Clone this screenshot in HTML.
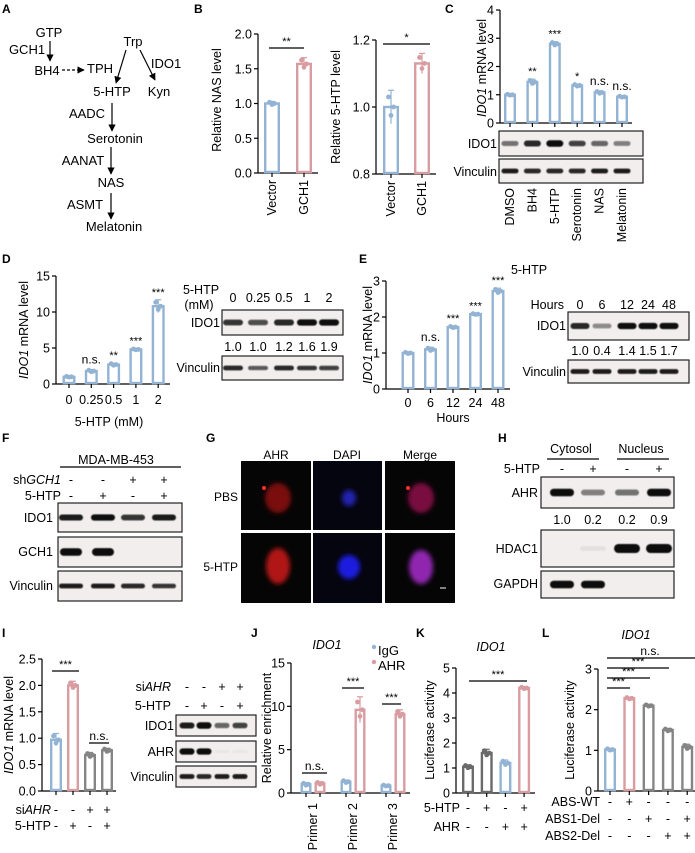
<!DOCTYPE html>
<html><head><meta charset="utf-8"><style>
html,body{margin:0;padding:0;background:#fff;}
svg{display:block;font-family:"Liberation Sans",Arial,sans-serif;}
</style></head><body>
<svg id="fig" width="695" height="853" viewBox="0 0 695 853" xmlns="http://www.w3.org/2000/svg">
<defs>
<filter id="blur" x="-20%" y="-50%" width="140%" height="200%"><feGaussianBlur stdDeviation="0.6"/></filter>
<filter id="glow" x="-50%" y="-50%" width="200%" height="200%"><feGaussianBlur stdDeviation="2.5"/></filter>
<marker id="ah" viewBox="0 0 10 10" refX="9" refY="5" markerWidth="6" markerHeight="6" orient="auto"><path d="M0,0 L10,5 L0,10 z" fill="#000"/></marker>
</defs>
<g font-weight="bold" font-size="12">
<text x="2" y="13">A</text>
<text x="194" y="13">B</text>
<text x="445" y="13">C</text>
<text x="2" y="263">D</text>
<text x="359" y="263">E</text>
<text x="2" y="442">F</text>
<text x="206" y="442">G</text>
<text x="498" y="442">H</text>
<text x="2" y="637">I</text>
<text x="251" y="637">J</text>
<text x="416" y="637">K</text>
<text x="542" y="637">L</text>
</g>
<g font-size="13" text-anchor="middle">
<text x="49" y="37">GTP</text>
<text x="27" y="54">GCH1</text>
<text x="47" y="75">BH4</text>
<text x="100" y="73">TPH</text>
<text x="133" y="46">Trp</text>
<text x="166" y="68">IDO1</text>
<text x="112" y="96">5-HTP</text>
<text x="159" y="96">Kyn</text>
<text x="87" y="118">AADC</text>
<text x="115" y="143">Serotonin</text>
<text x="83" y="165">AANAT</text>
<text x="111" y="187">NAS</text>
<text x="85" y="209">ASMT</text>
<text x="114" y="231">Melatonin</text>
</g>
<g stroke="#000" stroke-width="1.2" fill="none" marker-end="url(#ah)">
<line x1="50" y1="41" x2="50" y2="61"/>
<line x1="62" y1="70" x2="84" y2="70" stroke-dasharray="3,2"/>
<line x1="126" y1="50" x2="116" y2="83"/>
<line x1="140" y1="50" x2="155" y2="80"/>
<line x1="112" y1="103" x2="112" y2="131"/>
<line x1="111" y1="147" x2="111" y2="174"/>
<line x1="111" y1="193" x2="111" y2="219"/>
</g>
<g font-size="12" text-anchor="middle">
<text x="276" y="459">AHR</text>
<text x="347" y="459">DAPI</text>
<text x="420" y="459">Merge</text>
<text x="238" y="501" text-anchor="end">PBS</text>
<text x="238" y="571" text-anchor="end">5-HTP</text>
<rect x="241" y="461" width="70" height="69" fill="#050505"/>
<rect x="313" y="461" width="69" height="69" fill="#050510"/>
<rect x="385" y="461" width="70" height="69" fill="#050505"/>
<rect x="241" y="533" width="70" height="70" fill="#050505"/>
<rect x="313" y="533" width="69" height="70" fill="#050510"/>
<rect x="385" y="533" width="70" height="70" fill="#050505"/>
<g filter="url(#glow)">
<ellipse cx="278" cy="498" rx="13" ry="15" fill="#7a1010"/>
<ellipse cx="349" cy="498" rx="7" ry="8" fill="#2020b0"/>
<ellipse cx="421" cy="498" rx="13" ry="15" fill="#7a1040"/>
<ellipse cx="278" cy="566" rx="12" ry="18" fill="#b01818"/>
<ellipse cx="349" cy="567" rx="11" ry="12" fill="#1a1ae0"/>
<ellipse cx="421" cy="567" rx="12" ry="17" fill="#9028b0"/>
</g>
<circle cx="264" cy="488" r="2" fill="#ff3030"/>
<circle cx="408" cy="488" r="2" fill="#ff3030"/>
<line x1="440" y1="588" x2="446" y2="588" stroke="#fff" stroke-width="1"/>
</g>
</svg>
<script>
const b1Cats=['Vector','GCH1'];
const b1Vals=[1.0,1.57];
const b1Errs=[0.03,0.09];
const b1Ticks=[0,0.5,1,1.5,2];
const b1TickLabels=['0.0','0.5','1.0','1.5','2.0'];

const b2Cats=['Vector','GCH1'];
const b2Vals=[1.0,1.13];
const b2Errs=[0.05,0.03];
const b2Ticks=[0.8,1.0,1.2];
const b2TickLabels=['0.8','1.0','1.2'];

const cCats=['DMSO','BH4','5-HTP','Serotonin','NAS','Melatonin'];
const cVals=[1.0,1.45,2.8,1.33,1.08,0.93];
const cErrs=[0.03,0.1,0.08,0.05,0.06,0.03];
const cSig=['','**','***','*','n.s.','n.s.'];
const cTicks=[0,1,2,3,4];
const cTickLabels=['0','1','2','3','4'];

const dCats=['0','0.25','0.5','1','2'];
const dVals=[1.0,1.8,2.7,4.8,10.8];
const dErrs=[0.1,0.2,0.2,0.1,0.9];
const dSig=['','n.s.','**','***','***'];
const dTicks=[0,5,10,15];
const dTickLabels=['0','5','10','15'];

const eCats=['0','6','12','24','48'];
const eVals=[1.0,1.1,1.72,2.08,2.72];
const eErrs=[0.03,0.06,0.03,0.02,0.08];
const eSig=['','n.s.','***','***','***'];
const eTicks=[0,1,2,3];
const eTickLabels=['0','1','2','3'];

const iVals=[0.97,2.0,0.68,0.77];
const iErrs=[0.12,0.08,0.05,0.04];
const iTicks=[0,0.5,1,1.5,2,2.5];
const iTickLabels=['0.0','0.5','1.0','1.5','2.0','2.5'];

const jCats=['Primer 1','Primer 2','Primer 3'];
const jIgG=[1.0,1.3,0.85];
const jAHR=[1.1,9.6,9.1];
const jIgGErr=[0.2,0.2,0.1];
const jAHRErr=[0.2,1.5,0.5];
const jTicks=[0,5,10,15];
const jTickLabels=['0','5','10','15'];

const kVals=[1.05,1.6,1.2,4.2];
const kErrs=[0.08,0.15,0.12,0.05];
const kTicks=[0,1,2,3,4,5];
const kTickLabels=['0','1','2','3','4','5'];

const lVals=[1.02,2.28,2.1,1.5,1.08];
const lErrs=[0.03,0.03,0.03,0.04,0.07];
const lTicks=[0,1,2,3];
const lTickLabels=['0','1','2','3'];

const BLUE='#93b3d4', PINK='#d99ca0', GRAY='#858585', DGRAY='#6a6a6a';
const NS='http://www.w3.org/2000/svg';
const svg=document.getElementById('fig');
function mk(tag,parent){const e=document.createElementNS(NS,tag);(parent||svg).appendChild(e);return e;}
function T(parent,x,y,s,size,anchor,name){
  const t=mk('text',parent);
  t.setAttribute('x',x);t.setAttribute('y',y);t.setAttribute('font-size',size);
  t.setAttribute('text-anchor',anchor||'middle');t.textContent=s;
  
  
  return t;
}
function L(parent,x1,y1,x2,y2,w,col){
  const l=mk('line',parent);
  l.setAttribute('x1',x1);l.setAttribute('y1',y1);l.setAttribute('x2',x2);l.setAttribute('y2',y2);
  l.setAttribute('stroke',col||'#000');l.setAttribute('stroke-width',w||1.2);
  return l;
}
function axis(c){
  const g=mk('g');
  
  
  const y=v=>c.y0-(v-c.vmin)/(c.vmax-c.vmin)*(c.y0-c.y1);
  const l=L(g,c.ax,c.y0,c.ax,y(c.vmax),1.2);
  
  
  c.ticks.forEach((v,i)=>{
    const tk=L(g,c.ax-4,y(v),c.ax,y(v),1.2);
    
    
    T(g,c.ax-6,y(v)+4.5,c.tickLabels[i],12.5,'end',c.name+'-y-tick-label');
  });
  const bl=L(g,c.ax,c.y0,c.xEnd,c.y0,1.2);
  
  
  return y;
}
function bar(g,name,y,y0,x,bw,v,e,col){
  const r=mk('rect',g);
  r.setAttribute('x',x-bw/2+1.2);r.setAttribute('y',y(v));r.setAttribute('width',bw-2.4);
  r.setAttribute('height',Math.max(0,y0-y(v)-1));r.setAttribute('fill','#fff');
  r.setAttribute('stroke',col);r.setAttribute('stroke-width',2.4);
  
  
  const eb=L(g,x,y(v-e),x,y(v+e),1.2,col);
  
  
  const cap=L(g,x-3,y(v+e),x+3,y(v+e),1.2,col);
  
  
  [[-2.5,0.6],[0,-0.5],[2.5,0]].forEach(p=>{
    const d=mk('circle',g);
    d.setAttribute('cx',x+p[0]);d.setAttribute('cy',y(v+e*p[1]));d.setAttribute('r',2.4);d.setAttribute('fill',col);
    
    
  });
  const tk=L(g,x,y0,x,y0+4,1.2);
  
  
}
function chart(c){
  const y=axis(c);
  const g=mk('g');
  
  
  c.vals.forEach((v,i)=>{
    const x=c.x0+i*c.step;
    bar(g,c.name+'-bar-'+(i+1),y,c.y0,x,c.bw,v,c.errs[i],c.colors[i]);
    if(c.sig&&c.sig[i]){
      const s=c.sig[i];
      T(g,x,y(v+c.errs[i])-(s.indexOf('*')>=0?4:6),s,s.indexOf('*')>=0?11:12,'middle',c.name+'-sig-'+(i+1));
    }
    if(c.cats&&c.rot){
      const t=T(g,x+4,c.catY,c.cats[i],12.5,'end',c.name+'-x-label');
      t.setAttribute('transform','rotate(-90 '+(x+4)+' '+c.catY+')');
    } else if(c.cats){
      T(g,x,c.catY,c.cats[i],12.5,'middle',c.name+'-x-label');
    }
  });
  return y;
}
function ytitle(x,y,parts,name){
  const t=mk('text');
  t.setAttribute('x',x);t.setAttribute('y',y);t.setAttribute('font-size',12.5);t.setAttribute('text-anchor','middle');
  t.setAttribute('transform','rotate(-90 '+x+' '+y+')');
  
  
  parts.forEach(p=>{const s=mk('tspan',t);s.textContent=p[0];if(p[1])s.setAttribute('font-style','italic');});
}
function blot(name,x,y,w,h,lanes,inten,bw,bh){
  const g=mk('g');
  
  
  const r=mk('rect',g);
  r.setAttribute('x',x);r.setAttribute('y',y);r.setAttribute('width',w);r.setAttribute('height',h);
  r.setAttribute('fill','#f2eeee');r.setAttribute('stroke','#222');r.setAttribute('stroke-width',1.2);
  lanes.forEach((lx,i)=>{
    if(inten[i]<=0.02)return;
    const b=mk('rect',g);
    const hh=bh*(0.7+0.6*inten[i]);
    b.setAttribute('x',lx-bw/2);b.setAttribute('y',y+h/2-hh/2);b.setAttribute('width',bw);b.setAttribute('height',hh);
    b.setAttribute('rx',hh/2);b.setAttribute('fill','rgb(12,8,8)');b.setAttribute('opacity',Math.min(1,inten[i]*1.1));
    b.setAttribute('filter','url(#blur)');
    
    
  });
}
function rowLabels(labelX,rows,lanes,name){
  rows.forEach(r=>{
    const t=mk('text');
    t.setAttribute('x',labelX);t.setAttribute('y',r.y);t.setAttribute('font-size',12.5);t.setAttribute('text-anchor','end');
    
    
    const parts=Array.isArray(r.label)?r.label:[[r.label]];
    parts.forEach(p=>{const s=mk('tspan',t);s.textContent=p[0];if(p[1])s.setAttribute('font-style','italic');});
    r.vals.forEach((s,i)=>T(svg,lanes[i],r.y,s,12.5,'middle',name+'-sign'));
  });
}
function sigLine(x1,x2,y,label,name,tx){
  const l=L(svg,x1,y,x2,y,1.3);
  
  
  T(svg,tx||(x1+x2)/2,y-3,label,label.indexOf('*')>=0?11:12,'middle',name+'-text');
}

chart({name:'b-nas',ax:258,y0:173,y1:34,vmin:0,vmax:2,ticks:b1Ticks,tickLabels:b1TickLabels,vals:b1Vals,errs:b1Errs,colors:[BLUE,PINK],x0:272,step:32,bw:16,xEnd:318,cats:b1Cats,rot:true,catY:180});
ytitle(221,100,[['Relative NAS level']],'b-nas-y-title');
sigLine(269,304,48,'**','b-nas-sig');
chart({name:'b-5htp',ax:376,y0:174,y1:40,vmin:0.8,vmax:1.2,ticks:b2Ticks,tickLabels:b2TickLabels,vals:b2Vals,errs:b2Errs,colors:[BLUE,PINK],x0:391,step:31,bw:16,xEnd:436,cats:b2Cats,rot:true,catY:181});
ytitle(340,107,[['Relative 5-HTP level']],'b-5htp-y-title');
sigLine(383,430,44,'*','b-5htp-sig');

chart({name:'c',ax:500,y0:123,y1:10,vmin:0,vmax:4,ticks:cTicks,tickLabels:cTickLabels,vals:cVals,errs:cErrs,colors:cVals.map(()=>BLUE),x0:510,step:22.4,bw:12,xEnd:632,sig:cSig,cats:cCats,rot:true,catY:188});
ytitle(486,68,[['IDO1',1],[' mRNA level']],'c-y-title');
const cLanes=cVals.map((v,i)=>510+i*22.4);
blot('c-blot-ido1',499,131,144,25,cLanes,[0.5,0.8,1,0.7,0.55,0.45],17,5);
blot('c-blot-vinculin',499,159,144,24,cLanes,[0.85,0.8,0.8,0.8,0.85,0.85],17,4);
T(svg,497,148,'IDO1',12.5,'end','c-blot-label-ido1');
T(svg,497,176,'Vinculin',12.5,'end','c-blot-label-vinculin');

chart({name:'d',ax:56,y0:384,y1:276,vmin:0,vmax:15,ticks:dTicks,tickLabels:dTickLabels,vals:dVals,errs:dErrs,colors:dVals.map(()=>BLUE),x0:69,step:22.3,bw:13,xEnd:170,sig:dSig,cats:dCats,catY:404});
ytitle(28,330,[['IDO1',1],[' mRNA level']],'d-y-title');
T(svg,109,426,'5-HTP (mM)',12.5,'middle','d-x-title');
const dLanes=[233,258,284,307,329];
T(svg,201,294,'5-HTP',12.5,'middle','d-blot-header');
T(svg,199,309,'(mM)',12.5,'middle','d-blot-header-unit');
['0','0.25','0.5','1','2'].forEach((s,i)=>T(svg,dLanes[i],302,s,12.5,'middle','d-blot-lane-label'));
blot('d-blot-ido1',222,310,121,25,dLanes,[0.75,0.65,0.8,0.9,0.9],20,5);
['1.0','1.0','1.2','1.6','1.9'].forEach((s,i)=>T(svg,dLanes[i],351,s,12.5,'middle','d-blot-quant'));
blot('d-blot-vinculin',222,356,121,24,dLanes,[0.8,0.6,0.8,0.75,0.7],20,4);
T(svg,220,327,'IDO1',12.5,'end','d-blot-label-ido1');
T(svg,220,372,'Vinculin',12.5,'end','d-blot-label-vinculin');

chart({name:'e',ax:386,y0:389,y1:281,vmin:0,vmax:3,ticks:eTicks,tickLabels:eTickLabels,vals:eVals,errs:eErrs,colors:eVals.map(()=>BLUE),x0:408,step:22.5,bw:13,xEnd:510,sig:eSig,cats:eCats,catY:407});
ytitle(372,335,[['IDO1',1],[' mRNA level']],'e-y-title');
T(svg,453,422,'Hours',12.5,'middle','e-x-title');
T(svg,529,274,'5-HTP',12.5,'middle','e-treatment-label');
const eLanes=[580,602,627,648,669];
T(svg,564,309,'Hours',12.5,'end','e-blot-header');
['0','6','12','24','48'].forEach((s,i)=>T(svg,eLanes[i],309,s,12.5,'middle','e-blot-lane-label'));
blot('e-blot-ido1',568,312,121,28,eLanes,[0.8,0.4,0.9,0.9,0.9],19,5);
['1.0','0.4','1.4','1.5','1.7'].forEach((s,i)=>T(svg,eLanes[i],355,s,12.5,'middle','e-blot-quant'));
blot('e-blot-vinculin',568,360,121,23,eLanes,[0.85,0.85,0.85,0.85,0.85],19,4);
T(svg,566,330,'IDO1',12.5,'end','e-blot-label-ido1');
T(svg,566,376,'Vinculin',12.5,'end','e-blot-label-vinculin');

const fLanes=[71,103,133,164];
T(svg,116,464,'MDA-MB-453',12.5,'middle','f-cell-line');
const fl=L(svg,60,467,181,467,1.2);


rowLabels(61,[{y:484,label:[['sh'],['GCH1',1]],vals:['-','-','+','+']},{y:500,label:'5-HTP',vals:['-','+','-','+']}],fLanes,'f');
blot('f-blot-ido1',58,503,124,29,fLanes,[0.85,0.9,0.75,0.85],24,5);
blot('f-blot-gch1',58,537,124,30,fLanes,[0.95,1,0,0],22,6);
blot('f-blot-vinculin',58,571,124,30,fLanes,[0.85,0.85,0.8,0.75],24,4);
T(svg,53,522,'IDO1',12.5,'end','f-blot-label-ido1');
T(svg,53,556,'GCH1',12.5,'end','f-blot-label-gch1');
T(svg,53,590,'Vinculin',12.5,'end','f-blot-label-vinculin');

const hLanes=[562,593,627,659];
T(svg,571,453,'Cytosol',12.5,'middle','h-cytosol-header');
T(svg,641,453,'Nucleus',12.5,'middle','h-nucleus-header');
[[547,599],[617,669]].forEach(p=>{const u=L(svg,p[0],459,p[1],459,1.2);
  
  });
rowLabels(540,[{y:473,label:'5-HTP',vals:['-','+','-','+']}],hLanes,'h');
blot('h-blot-ahr',541,477,133,31,hLanes,[0.95,0.45,0.5,0.95],24,6);
['1.0','0.2','0.2','0.9'].forEach((s,i)=>T(svg,hLanes[i],524,s,12.5,'middle','h-blot-quant'));
blot('h-blot-hdac1',541,530,133,37,hLanes,[0,0.05,1,1],26,7);
blot('h-blot-gapdh',541,571,133,27,hLanes,[0.95,0.95,0,0],24,6);
T(svg,538,497,'AHR',12.5,'end','h-blot-label-ahr');
T(svg,538,553,'HDAC1',12.5,'end','h-blot-label-hdac1');
T(svg,538,588,'GAPDH',12.5,'end','h-blot-label-gapdh');

const iLanesBars=iVals.map((v,i)=>56+i*17);
chart({name:'i',ax:42,y0:791,y1:659,vmin:0,vmax:2.5,ticks:iTicks,tickLabels:iTickLabels,vals:iVals,errs:iErrs,colors:[BLUE,PINK,GRAY,GRAY],x0:56,step:17,bw:12,xEnd:116});
ytitle(13,725,[['IDO1',1],[' mRNA level']],'i-y-title');
sigLine(52,79,671,'***','i-sig-1');
sigLine(89,109,743,'n.s.','i-sig-2');
rowLabels(51,[{y:814,label:[['si'],['AHR',1]],vals:['-','-','+','+']},{y:830,label:'5-HTP',vals:['-','+','-','+']}],iLanesBars,'i');
const iLanes=[187,204,222,240];
rowLabels(171,[{y:691,label:[['si'],['AHR',1]],vals:['-','-','+','+']},{y:710,label:'5-HTP',vals:['-','+','-','+']}],iLanes,'i-blot');
blot('i-blot-ido1',176,715,80,21,iLanes,[0.85,1,0.55,0.7],15,5);
blot('i-blot-ahr',176,741,80,21,iLanes,[0.95,0.95,0.03,0.03],15,5);
blot('i-blot-vinculin',176,766,80,21,iLanes,[0.85,0.8,0.85,0.85],15,4);
T(svg,174,730,'IDO1',12.5,'end','i-blot-label-ido1');
T(svg,174,756,'AHR',12.5,'end','i-blot-label-ahr');
T(svg,174,781,'Vinculin',12.5,'end','i-blot-label-vinculin');

{
const c={name:'j',ax:291,y0:793,y1:663,vmin:0,vmax:15,ticks:jTicks,tickLabels:jTickLabels,xEnd:410};
const y=axis(c);
const g=mk('g');


jCats.forEach((cat,i)=>{
  const xc=313+i*40;
  bar(g,'j-bar-igg-'+(i+1),y,c.y0,xc-7,11,jIgG[i],jIgGErr[i],BLUE);
  bar(g,'j-bar-ahr-'+(i+1),y,c.y0,xc+7,11,jAHR[i],jAHRErr[i],PINK);
  const t=T(g,xc+4,803,cat,12.5,'end','j-x-label');
  t.setAttribute('transform','rotate(-90 '+(xc+4)+' 803)');
});
}
ytitle(271,728,[['Relative enrichment']],'j-y-title');
{const t=T(svg,327,649,'IDO1',12.5,'middle','j-title');t.setAttribute('font-style','italic');}
sigLine(302,327,773,'n.s.','j-sig-1');
sigLine(342,364,688,'***','j-sig-2');
sigLine(382,401,704,'***','j-sig-3');
{const d1=mk('circle');d1.setAttribute('cx',374);d1.setAttribute('cy',647);d1.setAttribute('r',2.2);d1.setAttribute('fill',BLUE);


const d2=mk('circle');d2.setAttribute('cx',374);d2.setAttribute('cy',662);d2.setAttribute('r',2.2);d2.setAttribute('fill',PINK);

}
T(svg,378,655,'IgG',13,'start','legend-igg');
T(svg,378,670,'AHR',13,'start','legend-ahr');

chart({name:'k',ax:456,y0:793,y1:668,vmin:0,vmax:5,ticks:kTicks,tickLabels:kTickLabels,vals:kVals,errs:kErrs,colors:[DGRAY,DGRAY,BLUE,PINK],x0:468,step:18.7,bw:12,xEnd:535});
ytitle(434,730,[['Luciferase activity']],'k-y-title');
{const t=T(svg,491,651,'IDO1',12.5,'middle','k-title');t.setAttribute('font-style','italic');}
sigLine(469,527,681,'***','k-sig');
const kLanes=kVals.map((v,i)=>468+i*18.7);
rowLabels(460,[{y:812,label:'5-HTP',vals:['-','+','-','+']},{y:831,label:'AHR',vals:['-','-','+','+']}],kLanes,'k');

chart({name:'l',ax:598,y0:791,y1:669,vmin:0,vmax:3,ticks:lTicks,tickLabels:lTickLabels,vals:lVals,errs:lErrs,colors:[BLUE,PINK,GRAY,GRAY,GRAY],x0:610,step:19.3,bw:12,xEnd:697});
ytitle(574,730,[['Luciferase activity']],'l-y-title');
{const t=T(svg,636,639,'IDO1',12.5,'middle','l-title');t.setAttribute('font-style','italic');}
sigLine(607,695,658,'n.s.','l-sig-ns',650);
sigLine(607,669,668,'***','l-sig-1');
sigLine(607,650,678,'***','l-sig-2');
sigLine(607,630,688,'***','l-sig-3');
const lLanes=lVals.map((v,i)=>610+i*19.3);
rowLabels(600,[{y:806,label:'ABS-WT',vals:['-','+','-','-','-']},{y:823,label:'ABS1-Del',vals:['-','-','+','-','+']},{y:840,label:'ABS2-Del',vals:['-','-','-','+','+']}],lLanes,'l');
</script>
</body></html>
